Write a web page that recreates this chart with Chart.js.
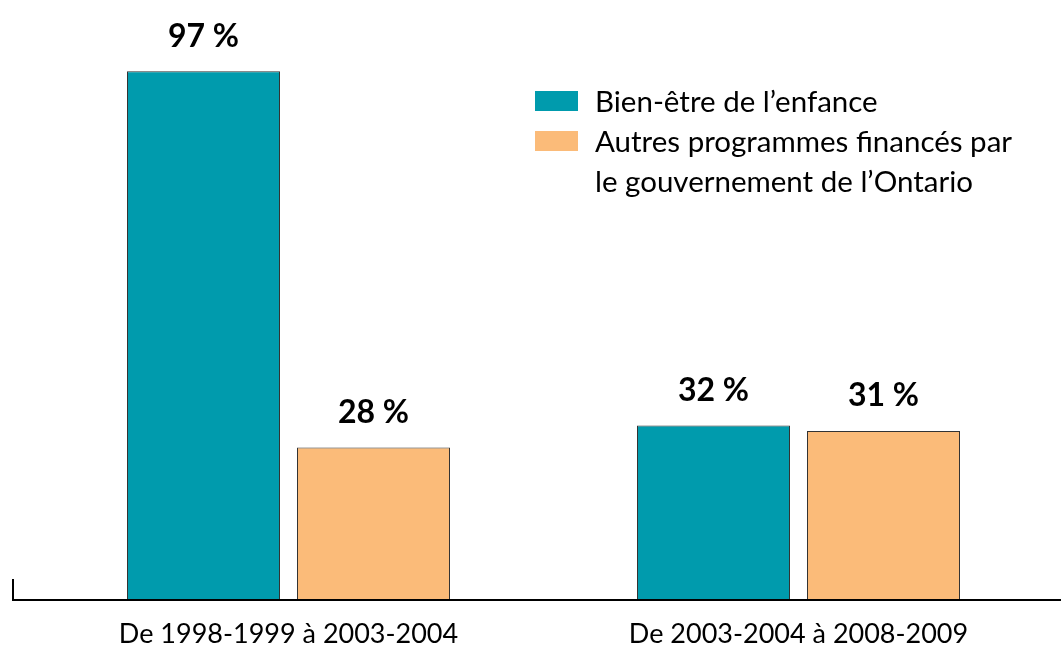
<!DOCTYPE html>
<html><head><meta charset="utf-8">
<script src="https://cdn.jsdelivr.net/npm/chart.js@4"></script>
<style>html,body{margin:0;padding:0;background:#fff}#w{width:1061px;height:647px;position:relative}</style>
</head><body><div id="w"><canvas id="c"></canvas></div>
<script>
const categories = ['De 1998-1999 à 2003-2004', 'De 2003-2004 à 2008-2009'];
const seriesNames = [['Bien-être de l’enfance'], ['Autres programmes financés par', 'le gouvernement de l’Ontario']];
const childWelfare = [97, 32];
const otherPrograms = [28, 31];
const colors = ['#009BAD', '#FBBB79'];
const FONT = 'Lato, "Open Sans", sans-serif';

const drawPlugin = {
  id: 'custom',
  afterDatasetsDraw(chart) {
    const ctx = chart.ctx;
    const xs = chart.scales.x;
    const bottom = chart.chartArea.bottom;
    ctx.save();
    // axis line
    ctx.strokeStyle = '#000';
    ctx.lineWidth = 2;
    ctx.beginPath();
    ctx.moveTo(12, bottom);
    ctx.lineTo(1061, bottom);
    ctx.moveTo(13, bottom);
    ctx.lineTo(13, bottom - 21);
    ctx.stroke();
    // category labels
    ctx.fillStyle = '#000';
    ctx.font = '27px ' + FONT;
    ctx.textAlign = 'center';
    ctx.textBaseline = 'middle';
    categories.forEach((c, i) => ctx.fillText(c, xs.getPixelForValue(i), 634));
    // value labels
    ctx.font = 'bold 32px ' + FONT;
    chart.data.datasets.forEach((ds, di) => {
      chart.getDatasetMeta(di).data.forEach((bar, i) => {
        ctx.fillText(ds.data[i] + ' %', bar.x, bar.y - 35);
      });
    });
    // legend
    ctx.textAlign = 'left';
    ctx.font = '29.5px ' + FONT;
    let y = 101;
    seriesNames.forEach((lines, si) => {
      ctx.fillStyle = colors[si];
      ctx.fillRect(535, y - 10, 43, 20);
      ctx.fillStyle = '#000';
      lines.forEach((ln) => { ctx.fillText(ln, 595, y + 1); y += 40; });
    });
    ctx.restore();
  }
};

new Chart(document.getElementById('c'), {
  type: 'bar',
  data: {
    labels: categories,
    datasets: [
      { label: seriesNames[0].join(' '), data: childWelfare, backgroundColor: colors[0], borderColor: '#333', borderWidth: 1 },
      { label: seriesNames[1].join(' '), data: otherPrograms, backgroundColor: colors[1], borderColor: '#333', borderWidth: 1 }
    ]
  },
  options: {
    responsive: true, maintainAspectRatio: false, animation: false,
    layout: { padding: { left: 33.5, right: 7.5, top: 55, bottom: 47 } },
    plugins: { legend: { display: false }, tooltip: { enabled: false } },
    datasets: { bar: { categoryPercentage: 340/510, barPercentage: 0.9 } },
    scales: {
      x: { display: false },
      y: { display: false, min: 0, max: 100 }
    }
  },
  plugins: [drawPlugin]
});
</script></body></html>
